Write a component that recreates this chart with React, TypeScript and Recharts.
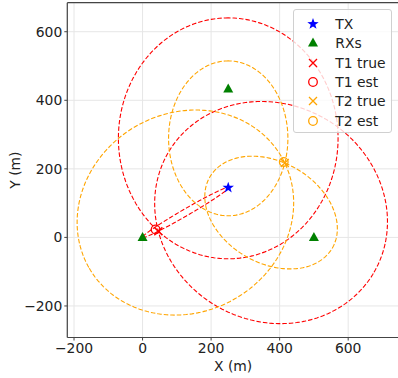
import React from "react";
import {
  ScatterChart,
  Scatter,
  XAxis,
  YAxis,
  CartesianGrid,
  ReferenceLine,
  Label,
} from "recharts";

// geometry (metres)
const TX = { x: 250, y: 145 };
const RX_X = [0, 500, 250];
const RX_Y = [0, 0, 433];
const T1_TRUE = { x: 46, y: 18 };
const T1_EST = { x: 38, y: 23 };
const T2_TRUE = { x: 415, y: 217 };
const T2_EST = { x: 412, y: 220 };

const X_TICKS = [-200, 0, 200, 400, 600];
const Y_TICKS = [-200, 0, 200, 400, 600];
const X_DOMAIN = [-219.6, 748.3];
const Y_DOMAIN = [-292, 684.7];

const RED = "#ff0000";
const ORANGE = "#ffa500";
const FONT = "'DejaVu Sans', sans-serif";
const TEXT = "#222222";
const SPINE = "#444444";

type Pt = { x: number; y: number };

const rxs: Pt[] = RX_X.map((x, i) => ({ x, y: RX_Y[i] }));

const dist = (a: Pt, b: Pt) => Math.hypot(a.x - b.x, a.y - b.y);

// bistatic range ellipse: foci at TX and RX, passing through the target
function rangeEllipse(f1: Pt, f2: Pt, t: Pt, n = 240): Pt[] {
  const a = (dist(t, f1) + dist(t, f2)) / 2;
  const c = dist(f1, f2) / 2;
  const b = Math.sqrt(Math.max(a * a - c * c, 0));
  const cx = (f1.x + f2.x) / 2;
  const cy = (f1.y + f2.y) / 2;
  const ang = Math.atan2(f2.y - f1.y, f2.x - f1.x);
  const out: Pt[] = [];
  for (let i = 0; i <= n; i++) {
    const th = (2 * Math.PI * i) / n;
    const ex = a * Math.cos(th);
    const ey = b * Math.sin(th);
    out.push({
      x: cx + ex * Math.cos(ang) - ey * Math.sin(ang),
      y: cy + ex * Math.sin(ang) + ey * Math.cos(ang),
    });
  }
  return out;
}

const ellipses = [
  ...rxs.map((rx) => ({ color: RED, pts: rangeEllipse(TX, rx, T1_TRUE) })),
  ...rxs.map((rx) => ({ color: ORANGE, pts: rangeEllipse(TX, rx, T2_TRUE) })),
];

const starPath = (cx: number, cy: number, r: number) => {
  const ri = r * 0.4;
  let d = "";
  for (let i = 0; i < 10; i++) {
    const rr = i % 2 === 0 ? r : ri;
    const a = -Math.PI / 2 + (i * Math.PI) / 5;
    d += (i === 0 ? "M" : "L") + (cx + rr * Math.cos(a)) + "," + (cy + rr * Math.sin(a));
  }
  return d + "Z";
};

const Star = ({ cx, cy }: any) => <path d={starPath(cx, cy, 6)} fill="#0000ff" />;
const Tri = ({ cx, cy }: any) => (
  <path d={`M${cx},${cy - 5.5} L${cx + 5},${cy + 3.5} L${cx - 5},${cy + 3.5} Z`} fill="#008000" />
);
const makeX = (color: string) => ({ cx, cy }: any) => (
  <path
    d={`M${cx - 4},${cy - 4} L${cx + 4},${cy + 4} M${cx - 4},${cy + 4} L${cx + 4},${cy - 4}`}
    stroke={color}
    strokeWidth={1.3}
  />
);
const makeO = (color: string) => ({ cx, cy }: any) => (
  <circle cx={cx} cy={cy} r={4.3} fill="none" stroke={color} strokeWidth={1.3} />
);
const Nothing = () => <g />;

const legendItems = [
  { label: "TX", shape: Star },
  { label: "RXs", shape: Tri },
  { label: "T1 true", shape: makeX(RED) },
  { label: "T1 est", shape: makeO(RED) },
  { label: "T2 true", shape: makeX(ORANGE) },
  { label: "T2 est", shape: makeO(ORANGE) },
];

function LegendBox() {
  return (
    <div
      style={{
        position: "absolute",
        left: 293.3,
        top: 9.3,
        width: 98.4,
        height: 123.7,
        boxSizing: "border-box",
        border: "1px solid #d0d0d0",
        borderRadius: 3,
        background: "rgba(255,255,255,0.8)",
      }}
    >
      {legendItems.map((it, i) => {
        const Shape = it.shape;
        const cy = 13.4 + i * 19.45;
        return (
          <React.Fragment key={it.label}>
            <svg
              width={20}
              height={16}
              style={{ position: "absolute", left: 8.7, top: cy - 8 }}
            >
              <Shape cx={10} cy={8} />
            </svg>
            <div
              style={{
                position: "absolute",
                left: 41,
                top: cy - 9,
                height: 18,
                lineHeight: "18px",
                fontFamily: FONT,
                fontSize: 13.9,
                color: TEXT,
                whiteSpace: "nowrap",
              }}
            >
              {it.label}
            </div>
          </React.Fragment>
        );
      })}
    </div>
  );
}

export default function App() {
  return (
    <div
      style={{
        position: "absolute",
        left: 0,
        top: 0,
        width: 398,
        height: 378,
        overflow: "hidden",
        background: "#fff",
      }}
    >
      <ScatterChart
        width={399}
        height={378}
        margin={{ top: 2.7, right: 0, bottom: 0.5, left: 7.3 }}
      >
        <CartesianGrid stroke="#e6e6e6" strokeWidth={1} />
        <XAxis
          type="number"
          dataKey="x"
          domain={X_DOMAIN}
          ticks={X_TICKS}
          allowDataOverflow
          height={40}
          tickSize={3}
          tickMargin={2.5}
          axisLine={{ stroke: SPINE, strokeWidth: 1.2 }}
          tickLine={{ stroke: SPINE }}
          tick={{ fill: TEXT, fontSize: 13.9, fontFamily: FONT }}
          tickFormatter={(v: number) => (v < 0 ? `\u2212${Math.abs(v)}` : `${v}`)}
        >
          <Label
            content={({ viewBox }: any) => (
              <text
                x={viewBox.x + viewBox.width / 2}
                y={371}
                textAnchor="middle"
                fill={TEXT}
                fontSize={13.9}
                fontFamily={FONT}
              >
                X (m)
              </text>
            )}
          />
        </XAxis>
        <YAxis
          type="number"
          dataKey="y"
          domain={Y_DOMAIN}
          ticks={Y_TICKS}
          allowDataOverflow
          width={60}
          tickSize={3}
          tickMargin={2}
          axisLine={{ stroke: SPINE, strokeWidth: 1.2 }}
          tickLine={{ stroke: SPINE }}
          tick={{ fill: TEXT, fontSize: 13.9, fontFamily: FONT }}
          tickFormatter={(v: number) => (v < 0 ? `\u2212${Math.abs(v)}` : `${v}`)}
        >
          <Label
            content={({ viewBox }: any) => {
              const cy = viewBox.y + viewBox.height / 2;
              return (
                <text
                  x={20}
                  y={cy}
                  transform={`rotate(-90 20 ${cy})`}
                  textAnchor="middle"
                  fill={TEXT}
                  fontSize={13.9}
                  fontFamily={FONT}
                >
                  Y (m)
                </text>
              );
            }}
          />
        </YAxis>
        <ReferenceLine y={Y_DOMAIN[1]} stroke={SPINE} strokeWidth={1.2} />
        {ellipses.map((e, i) => (
          <Scatter
            key={i}
            data={e.pts}
            shape={Nothing}
            line={{ stroke: e.color, strokeWidth: 1.1, strokeDasharray: "4.5 2" }}
            lineType="joint"
            isAnimationActive={false}
          />
        ))}
        <Scatter data={[TX]} shape={Star} isAnimationActive={false} />
        <Scatter data={rxs} shape={Tri} isAnimationActive={false} />
        <Scatter data={[T1_TRUE]} shape={makeX(RED)} isAnimationActive={false} />
        <Scatter data={[T1_EST]} shape={makeO(RED)} isAnimationActive={false} />
        <Scatter data={[T2_TRUE]} shape={makeX(ORANGE)} isAnimationActive={false} />
        <Scatter data={[T2_EST]} shape={makeO(ORANGE)} isAnimationActive={false} />
      </ScatterChart>
      <LegendBox />
    </div>
  );
}
